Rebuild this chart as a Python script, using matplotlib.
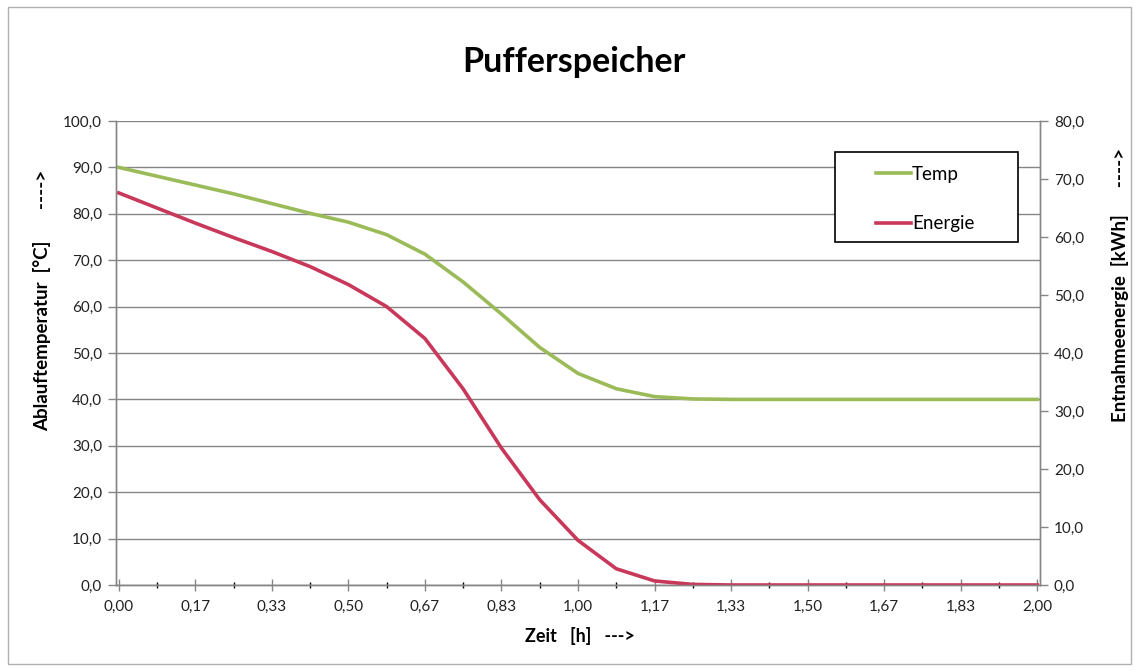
import matplotlib
matplotlib.use("Agg")
import matplotlib.pyplot as plt
from matplotlib.patches import Rectangle
from matplotlib.ticker import FixedLocator, FuncFormatter

plt.rcParams['font.family'] = ['Lato', 'DejaVu Sans']

# time in minutes (every 5 min), converted to hours
zeit_min = [0, 5, 10, 15, 20, 25, 30, 35, 40, 45, 50, 55, 60, 65, 70, 75, 80,
            85, 90, 95, 100, 105, 110, 115, 120]
temp = [90.0, 88.1, 86.2, 84.3, 82.2, 80.1, 78.2, 75.5, 71.3, 65.3, 58.4, 51.2,
        45.6, 42.3, 40.6, 40.1, 40.0, 40.0, 40.0, 40.0, 40.0, 40.0, 40.0, 40.0, 40.0]
energie = [67.6, 65.0, 62.4, 59.9, 57.5, 54.9, 51.8, 48.0, 42.5, 33.8, 23.6, 14.7,
           7.7, 2.8, 0.7, 0.1, 0.0, 0.0, 0.0, 0.0, 0.0, 0.0, 0.0, 0.0, 0.0]
zeit = [m / 60 for m in zeit_min]

x_ticks = [k / 6 for k in range(13)]
y_left = list(range(0, 101, 10))
y_right = list(range(0, 81, 10))

green = '#9bbb59'
red = '#c8385a'
grid_c = '#868686'

W, H = 1135, 671
fig = plt.figure(figsize=(W / 100, H / 100), dpi=100)
ax = fig.add_axes([116 / W, 1 - 585 / H, (1040 - 116) / W, (585 - 121) / H])
ax2 = ax.twinx()

l1, = ax.plot(zeit, temp, color=green, lw=2.6, label='Temp', solid_joinstyle='round')
l2, = ax2.plot(zeit, energie, color=red, lw=2.6, label='Energie', solid_joinstyle='round')

comma1 = FuncFormatter(lambda v, p: ('%.1f' % v).replace('.', ','))
comma2 = FuncFormatter(lambda v, p: ('%.2f' % v).replace('.', ','))

ax.set_xlim(-0.006, 2.006)
ax.set_ylim(0, 100)
ax2.set_ylim(0, 80)
ax.xaxis.set_major_locator(FixedLocator(x_ticks))
ax.xaxis.set_minor_locator(FixedLocator([k / 12 for k in range(25)]))
ax.xaxis.set_major_formatter(comma2)
ax.yaxis.set_major_locator(FixedLocator(y_left))
ax.yaxis.set_major_formatter(comma1)
ax2.yaxis.set_major_locator(FixedLocator(y_right))
ax2.yaxis.set_major_formatter(comma1)

ax.grid(axis='y', color=grid_c, lw=1.0)
ax.set_axisbelow(True)

for a in (ax, ax2):
    a.spines['top'].set_visible(False)
    for s in ('left', 'right', 'bottom'):
        a.spines[s].set_color(grid_c)
        a.spines[s].set_linewidth(1.0)
    a.tick_params(colors=grid_c, labelcolor='#222222', labelsize=11)

ax.tick_params(axis='y', length=6, width=1, pad=4)
ax.tick_params(axis='x', which='major', direction='inout', length=9, width=1, pad=6)
ax.tick_params(axis='x', which='minor', direction='inout', length=5, width=1)
ax2.tick_params(axis='y', length=6, width=1, pad=4)

fig.text(0.5 * (462 + 686) / W, 1 - 62 / H, 'Pufferspeicher', ha='center', va='center',
         fontsize=24.5, fontweight='bold')
fig.text(580 / W, 1 - 636 / H, 'Zeit   [h]   --->', ha='center', va='center',
         fontsize=13, fontweight='bold')
fig.text(42 / W, 1 - 300 / H, 'Ablauftemperatur  [°C]       ---->', ha='center', va='center',
         rotation=90, fontsize=13.5, fontweight='bold')
fig.text(1120 / W, 1 - 285 / H, 'Entnahmeenergie  [kWh]      ---->', ha='center', va='center',
         rotation=90, fontsize=13.5, fontweight='bold')

# legend box
fig.patches.append(Rectangle((835 / W, 1 - 242 / H), (1018 - 835) / W, (242 - 152) / H,
                             transform=fig.transFigure, facecolor='white',
                             edgecolor='black', lw=1.2, zorder=5))
leg = fig.legend(handles=[l1, l2], loc='center left', bbox_to_anchor=(867 / W, 1 - 199 / H),
                 frameon=False, fontsize=13.5, handlelength=1.85, handletextpad=0.05,
                 labelspacing=1.75, borderpad=0)
leg.set_zorder(6)

# outer chart border
fig.patches.append(Rectangle((8 / W, 7 / H), (W - 12) / W, (H - 14) / H,
                             transform=fig.transFigure, facecolor='none',
                             edgecolor='#b0b0b0', lw=1.0))

fig.savefig('out.png', dpi=100)
